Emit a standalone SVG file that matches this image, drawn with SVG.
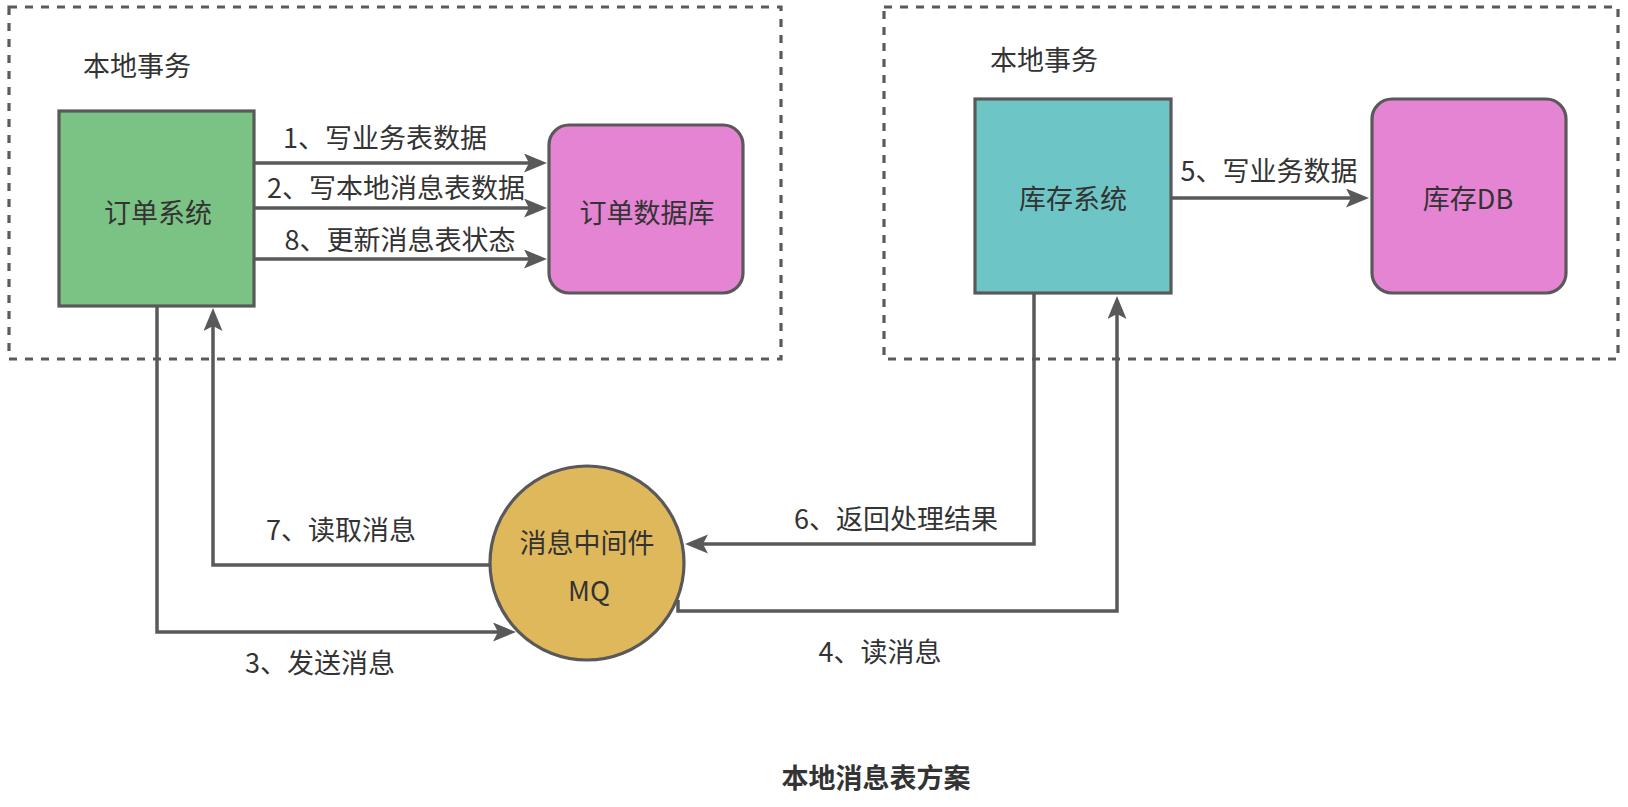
<svg xmlns="http://www.w3.org/2000/svg" width="1628" height="807" viewBox="0 0 1628 807">
<defs>
<style>
.t{font-family:"Noto Sans CJK SC","Noto Sans",sans-serif;font-size:27px;fill:#333;dominant-baseline:central;}
.c{text-anchor:middle;}
.box{fill:none;stroke:#5a5a5a;stroke-width:3.2;stroke-dasharray:8 8;}
.node{stroke:#595959;stroke-width:3.2;}
.ln{fill:none;stroke:#595959;stroke-width:3.5;marker-end:url(#ah);}
</style>
<marker id="ah" markerUnits="userSpaceOnUse" markerWidth="24" markerHeight="20" refX="5" refY="9.5" orient="auto">
<path d="M0,0 L23,9.5 L0,19 L5,9.5 Z" fill="#595959"/>
</marker>
</defs>
<rect width="1628" height="807" fill="#fff"/>
<g id="tx-left">
<rect class="box" x="9" y="7" width="772" height="352"/>
<text class="t" x="83" y="64">本地事务</text>
</g>
<g id="tx-right">
<rect class="box" x="884" y="7" width="734" height="352"/>
<text class="t" x="990" y="58">本地事务</text>
</g>
<g id="connectors">
<path class="ln" d="M254,163 L529,163"/>
<path class="ln" d="M254,208 L529,208"/>
<path class="ln" d="M254,259 L529,259"/>
<path class="ln" d="M1171,198 L1351,198"/>
<path class="ln" d="M157,306 L157,632 L498,632"/>
<path class="ln" d="M490,565 L213,565 L213,326"/>
<path class="ln" d="M1034,293 L1034,544 L703,544"/>
<path class="ln" d="M678,600 L678,611 L1117,611 L1117,314"/>
<text class="t c" x="385" y="136">1、写业务表数据</text>
<text class="t c" x="396" y="186">2、写本地消息表数据</text>
<text class="t c" x="400" y="238">8、更新消息表状态</text>
<text class="t c" x="1269" y="169">5、写业务数据</text>
<text class="t c" x="341" y="528">7、读取消息</text>
<text class="t c" x="320" y="661">3、发送消息</text>
<text class="t c" x="896" y="517">6、返回处理结果</text>
<text class="t c" x="880" y="650">4、读消息</text>
</g>
<g id="order-system">
<rect class="node" x="59" y="111" width="195" height="195" fill="#7bc384"/>
<text class="t c" x="158" y="211">订单系统</text>
</g>
<g id="order-db">
<rect class="node" x="549" y="125" width="194" height="168" rx="20" fill="#e584d3"/>
<text class="t c" x="647" y="211">订单数据库</text>
</g>
<g id="stock-system">
<rect class="node" x="975" y="99" width="196" height="194" fill="#6ec5c5"/>
<text class="t c" x="1073" y="197">库存系统</text>
</g>
<g id="stock-db">
<rect class="node" x="1372" y="99" width="194" height="194" rx="20" fill="#e584d3"/>
<text class="t c" x="1468" y="197">库存DB</text>
</g>
<g id="mq">
<circle class="node" cx="587" cy="563" r="97" fill="#e0b85c"/>
<text class="t c" x="587" y="541">消息中间件</text>
<text class="t c" x="589" y="589">MQ</text>
</g>
<g id="title">
<text class="t c" x="876" y="776" style="font-weight:bold">本地消息表方案</text>
</g>
</svg>
